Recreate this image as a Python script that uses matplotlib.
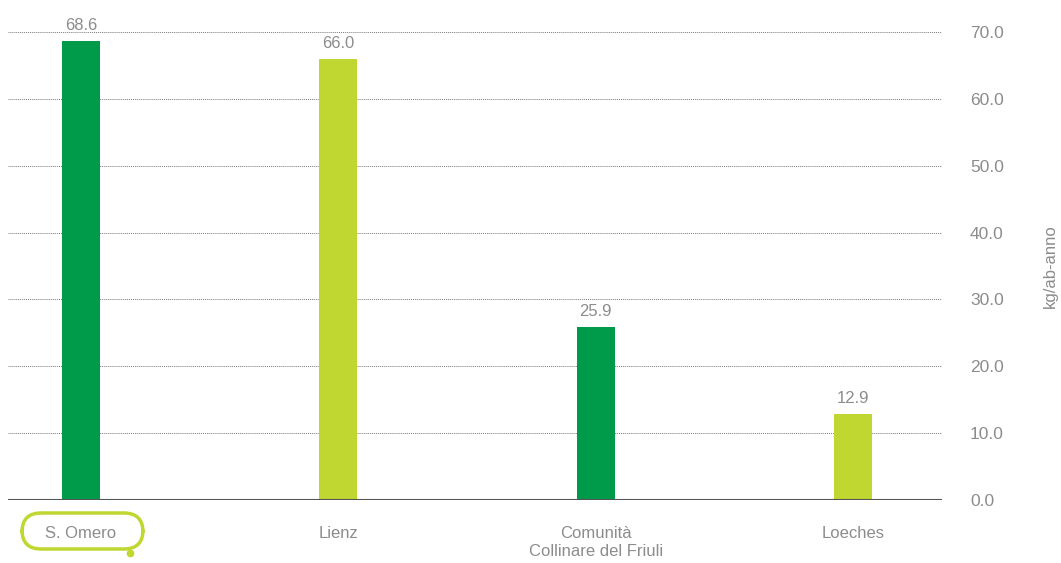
import matplotlib
matplotlib.use("Agg")
import matplotlib.pyplot as plt
from matplotlib.patches import FancyBboxPatch
from matplotlib.lines import Line2D

plt.rcParams['font.family'] = ['Liberation Sans', 'DejaVu Sans']

comuni = ["S. Omero", "Lienz", "Comunità\nCollinare del Friuli", "Loeches"]
valori = [68.6, 66.0, 25.9, 12.9]
colori = ["#009a4b", "#bfd730", "#009a4b", "#bfd730"]
yticks = [0, 10, 20, 30, 40, 50, 60, 70]

grey = "#8c8c8c"

fig = plt.figure(figsize=(10.61, 5.63), dpi=100)
ax = fig.add_axes([0.0075, 0.1119, 0.8805, 0.8313])

x = list(range(len(comuni)))
ax.bar(x, valori, width=0.148, color=colori, zorder=3)

for xi, v in zip(x, valori):
    ax.text(xi, v + 2.3, f"{v:.1f}", ha="center", va="center",
            fontsize=12, color=grey, clip_on=False)

ax.set_xlim(-0.284, 3.346)
ax.set_ylim(0, 70)

# dotted grid, solid baseline
for t in yticks[1:]:
    ax.axhline(t, color="#7a7a7a", lw=0.7, ls=(0, (1, 1)), zorder=1)
ax.axhline(0, color="#555555", lw=1.5, zorder=4)

for s in ax.spines.values():
    s.set_visible(False)

ax.yaxis.tick_right()
ax.set_yticks(yticks)
ax.set_yticklabels([f"{t:.1f}" for t in yticks])
ax.tick_params(axis="y", length=0, pad=20, labelsize=12.5, labelcolor=grey)
ax.yaxis.set_label_position("right")
ax.set_ylabel("kg/ab-anno", fontsize=12, color=grey, labelpad=28)

ax.set_xticks(x)
ax.set_xticklabels(comuni, fontsize=12, color=grey, linespacing=1.25, va="top")
ax.tick_params(axis="x", length=0, pad=19)

# highlight frame around the first municipality
box = FancyBboxPatch((22 / 1061, 14 / 563), 121 / 1061, 36 / 563,
                     boxstyle="round,pad=0,rounding_size=0.018",
                     transform=fig.transFigure, fill=False,
                     edgecolor="#bfd730", lw=2.5, mutation_aspect=1061 / 563)
fig.patches.append(box)
fig.add_artist(Line2D([130 / 1061], [10 / 563], marker="o", markersize=4.5,
                      color="#bfd730", transform=fig.transFigure))

fig.savefig("out.png", dpi=100)
